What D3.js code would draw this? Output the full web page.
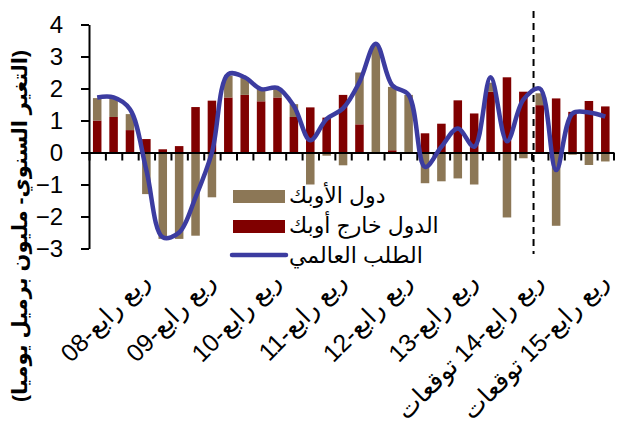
<!DOCTYPE html>
<html>
<head>
<meta charset="utf-8">
<script src="https://cdn.jsdelivr.net/npm/d3@7"></script>
<style>
  html, body { margin: 0; padding: 0; background: #fff; }
  svg { display: block; }
  text { font-family: "Liberation Sans", "DejaVu Sans", sans-serif; fill: #000; }
</style>
</head>
<body>
<svg id="chart" width="638" height="428"></svg>
<script>
//
// Data
//

// quarters, 2008 Q1 .. 2015 Q4
var quarters = d3.range(32)
// OPEC supply change (mb/d)
var opec = [0.7, 0.6, 0.5, -1.3, -2.7, -2.7, -2.6, -1.4,
  0.68, 0.54, 0.4, 0.26, 0.4, -1.0, -0.1, -0.4,
  1.62, 3.35, 1.98, 1.8, -0.96, -0.9, -0.81, -1.0,
  0.28, -2.03, -0.18, 0.37, -2.29, -0.07, -0.39, -0.28]
// non-OPEC supply change
var nonOpec = [1.0, 1.11, 0.7, 0.42, 0.1, 0.2, 1.42, 1.62,
  1.72, 1.8, 1.6, 1.72, 1.11, 1.41, 1.09, 1.8,
  0.88, 0.0, 0.07, 0.0, 0.6, 0.9, 1.63, 1.22,
  1.9, 2.35, 1.9, 1.48, 1.69, 1.27, 1.61, 1.44]
// world demand change
var demand = [1.72, 1.72, 1.35, -0.55, -2.65, -2.5, -1.4, 0.0,
  2.45, 2.35, 1.98, 2.02, 1.45, 0.38, 1.05, 1.38,
  2.2, 3.4, 2.1, 1.8, -0.45, 0.18, 0.75, 0.18,
  2.35, 0.35, 1.65, 2.0, -0.55, 1.22, 1.25, 1.12]

// labelled quarters (Q4 of each year)
var labelIndex = [3, 7, 11, 15, 19, 23, 27, 31]
var labelText = ['ربع رابع-08', 'ربع رابع-09', 'ربع رابع-10', 'ربع رابع-11',
  'ربع رابع-12', 'ربع رابع-13', 'ربع رابع-14 توقعات', 'ربع رابع-15 توقعات']
var yTicks = [-3, -2, -1, 0, 1, 2, 3, 4]
// forecast divider sits between these quarters
var forecastStart = 27

var legendNames = ['دول الأوبك', 'الدول خارج أوبك', 'الطلب العالمي']
var yTitle = '(التغير السنوي- مليون برميل يوميا)'

//
// Configuration
//

var colorOpec = '#8c7756'
var colorNonOpec = '#800000'
var colorDemand = '#3c3ca0'
var plotLeft = 89, plotRight = 613.5, plotTop = 24.5, plotBottom = 248.5
// the Arabic face differs from the original, so size the quarter labels by length
var labelLength = 114

//
// Scales
//

var svg = d3.select('#chart')

var x = d3.scaleBand()
  .domain(quarters)
  .range([plotLeft, plotRight])
  .paddingInner(0.48)
  .paddingOuter(0.24)

var xEdge = d3.scaleLinear().domain([0, quarters.length]).range([plotLeft, plotRight])

var y = d3.scaleLinear().domain([-3, 4]).range([plotBottom, plotTop])

//
// Bars
//

var table = quarters.map(function (q, i) {
  return { q: q, nonOpec: nonOpec[i], opec: opec[i] }
})

var series = d3.stack()
  .keys(['nonOpec', 'opec'])
  .offset(d3.stackOffsetDiverging)(table)

var colors = { nonOpec: colorNonOpec, opec: colorOpec }

svg.append('g')
  .selectAll('g')
  .data(series)
  .join('g')
  .attr('fill', function (s) { return colors[s.key] })
  .selectAll('rect')
  .data(function (s) { return s })
  .join('rect')
  .attr('x', function (d) { return x(d.data.q) })
  .attr('width', x.bandwidth())
  .attr('y', function (d) { return y(Math.max(d[0], d[1])) })
  .attr('height', function (d) { return Math.abs(y(d[0]) - y(d[1])) })

//
// Axes
//

var yAxis = svg.append('g')
  .attr('transform', 'translate(' + plotLeft + ',0)')
  .call(d3.axisLeft(y).tickValues(yTicks).tickFormat(d3.format('d'))
    .tickSize(8).tickPadding(18).tickSizeOuter(0))
yAxis.selectAll('text').style('font-size', '24px')
yAxis.selectAll('line, path').attr('stroke', '#000').attr('stroke-width', 2)

var xAxis = svg.append('g')
  .attr('transform', 'translate(0,' + y(0) + ')')
  .call(d3.axisBottom(xEdge).tickValues(d3.range(quarters.length + 1))
    .tickFormat('').tickSize(8).tickSizeOuter(0))
xAxis.selectAll('line, path').attr('stroke', '#000').attr('stroke-width', 2)

// rotated quarter labels, right end hung under each Q4
var labels = svg.append('g')
  .selectAll('text')
  .data(labelIndex)
  .join('text')
  .attr('direction', 'rtl')
  .attr('text-anchor', 'start')
  .style('font-size', '20px')
  .attr('transform', function (d) {
    return 'translate(' + (x(d) + x.bandwidth() / 2 + 5) + ',' + 283 + ') rotate(-45)'
  })
  .text(function (d, i) { return labelText[i] })

var labelSize = 20 * labelLength / labels.node().getComputedTextLength()
labels.style('font-size', labelSize.toFixed(1) + 'px')

//
// Forecast divider
//

svg.append('line')
  .attr('x1', xEdge(forecastStart) + 2)
  .attr('x2', xEdge(forecastStart) + 2)
  .attr('y1', 11)
  .attr('y2', 254)
  .attr('stroke', '#000')
  .attr('stroke-width', 2)
  .attr('stroke-dasharray', '7,5')

//
// Demand line
//

var line = d3.line()
  .x(function (d, i) { return x(quarters[i]) + x.bandwidth() / 2 })
  .y(function (d) { return y(d) })
  .curve(d3.curveCatmullRom.alpha(0.5))

svg.append('path')
  .datum(demand)
  .attr('d', line)
  .attr('fill', 'none')
  .attr('stroke', colorDemand)
  .attr('stroke-width', 4.5)
  .attr('stroke-linejoin', 'round')

//
// Legend
//

var legend = svg.append('g').attr('transform', 'translate(233,190)')
var rows = legend.selectAll('g')
  .data(legendNames)
  .join('g')
  .attr('transform', function (d, i) { return 'translate(0,' + i * 30 + ')' })

rows.filter(function (d, i) { return i < 2 })
  .append('rect')
  .attr('width', 52)
  .attr('height', 13)
  .attr('fill', function (d, i) { return i === 0 ? colorOpec : colorNonOpec })

rows.filter(function (d, i) { return i === 2 })
  .append('line')
  .attr('x1', -1).attr('x2', 53)
  .attr('y1', 5).attr('y2', 5)
  .attr('stroke', colorDemand)
  .attr('stroke-width', 4.5)
  .attr('stroke-linecap', 'round')

rows.append('text')
  .attr('direction', 'rtl')
  .attr('text-anchor', 'end')
  .attr('x', 56)
  .attr('y', 13)
  .style('font-size', '22px')
  .text(function (d) { return d })

//
// Axis title
//

svg.append('text')
  .attr('direction', 'rtl')
  .attr('text-anchor', 'middle')
  .attr('transform', 'translate(27,226) rotate(-90)')
  .style('font-size', '21px')
  .style('font-weight', 'bold')
  .text(yTitle)
</script>
</body>
</html>
